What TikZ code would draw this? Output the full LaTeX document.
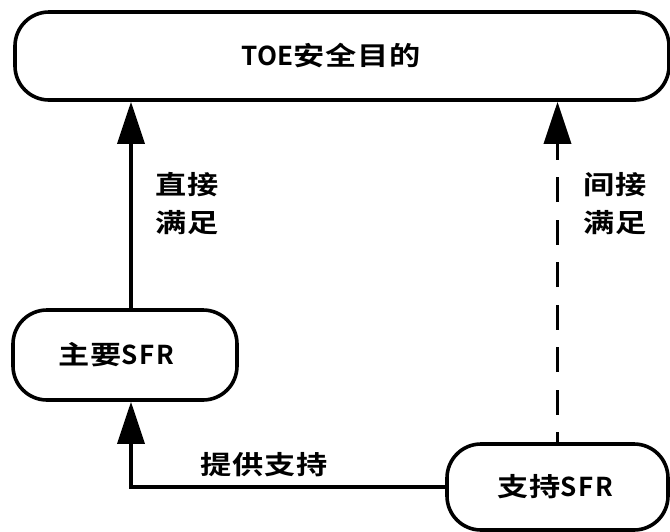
\documentclass[tikz,border=0pt]{standalone}
\usepackage{fontspec}
\setmainfont{Noto Sans CJK SC}[BoldFont={Noto Sans CJK SC Bold}]
\newfontfamily\cjsp{Noto Sans CJK SC Bold}[FakeStretch=1.2, LetterSpace=3]
\newfontfamily\lasp{Noto Sans CJK SC Bold}[LetterSpace=6]
\usetikzlibrary{arrows.meta}
\begin{document}
\begin{tikzpicture}[x=1pt,y=-1pt,
  box/.style={draw=black, line width=3.6pt, rounded corners=34pt, fill=white,
    font=\fontsize{26}{30}\selectfont, inner sep=0pt},
  lbl/.style={font=\fontsize{26}{38}\selectfont\cjsp, align=left, inner sep=0pt},
  conn/.style={line width=3.6pt, -{Triangle[width=27pt,length=42pt]}},
  dashline/.style={dash pattern=on 25pt off 17.5pt, dash phase=15pt}]
\useasboundingbox (0,0) rectangle (670,531);
\node[box, minimum width=654pt, minimum height=88pt] (top) at (342,56) {{\bfseries TOE}{\cjsp 安全目的}\hspace*{22pt}};
\node[box, minimum width=224pt, minimum height=90pt] (main) at (125,355) {{\cjsp 主要}{\lasp SFR}\hspace*{18pt}};
\node[box, minimum width=221pt, minimum height=86pt] (supp) at (557.5,487) {{\cjsp 支持}{\lasp SFR}\hspace*{4pt}};
\draw[conn] ([xshift=6pt]main.north) -- ([xshift=6pt]main.north |- top.south);
\draw[conn, dashline] (supp.north) -- (supp.north |- top.south);
\draw[conn] (supp.west) -| ([xshift=6pt]main.south);
\node[lbl, anchor=west] (l1) at (155,204) {直接\\满足};
\node[lbl, anchor=west] (l2) at (583,204) {间接\\满足};
\node[lbl, anchor=west] (l3) at (200,465) {提供支持};
\end{tikzpicture}
\end{document}
